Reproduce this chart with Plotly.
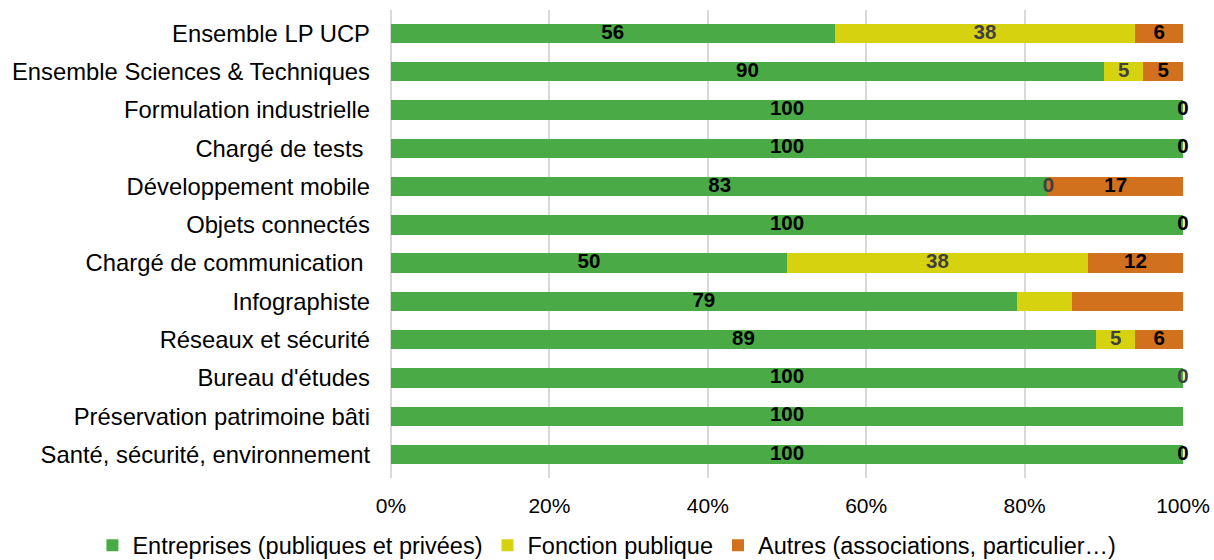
import plotly.graph_objects as go

categories = [
    "Ensemble LP UCP",
    "Ensemble Sciences & Techniques",
    "Formulation industrielle",
    "Chargé de tests\u00a0",
    "Développement mobile",
    "Objets connectés",
    "Chargé de communication\u00a0",
    "Infographiste",
    "Réseaux et sécurité",
    "Bureau d'études",
    "Préservation patrimoine bâti",
    "Santé, sécurité, environnement",
]
entreprises = [56, 90, 100, 100, 83, 100, 50, 79, 89, 100, 100, 100]
fonction = [38, 5, 0, 0, 0, 0, 38, 7, 5, 0, 0, 0]
autres = [6, 5, 0, 0, 17, 0, 12, 14, 6, 0, 0, 0]

# which data labels are visible in the original
show_ent = [True] * 12
show_fonc = [True, True, False, False, True, False, True, False, True, True, False, False]
show_aut = [True, True, True, True, True, True, True, False, True, False, False, True]

series_names = [
    "Entreprises (publiques et privées)",
    "Fonction publique",
    "Autres (associations, particulier…)",
]
colors = ["#4aab46", "#d6d210", "#d1701d"]
label_colors = ["#000000", "#404040", "#000000"]

FONT = "Liberation Sans, Arial, sans-serif"

fig = go.Figure()
series = [entreprises, fonction, autres]
shows = [show_ent, show_fonc, show_aut]

for vals, name, col in zip(series, series_names, colors):
    fig.add_trace(go.Bar(
        y=categories, x=vals, name=name, orientation="h",
        marker=dict(color=col, line=dict(width=0)),
        hoverinfo="skip",
    ))

# data labels centred on each segment
base = [0] * len(categories)
for vals, show, lc in zip(series, shows, label_colors):
    xs = [b + v / 2 for b, v in zip(base, vals)]
    txt = [str(v) if s else "" for v, s in zip(vals, show)]
    fig.add_trace(go.Scatter(
        y=categories, x=xs, text=txt, mode="text",
        textposition="middle center",
        textfont=dict(family=FONT, size=20.5, color=lc, weight="bold"),
        showlegend=False, hoverinfo="skip", cliponaxis=False,
    ))
    base = [b + v for b, v in zip(base, vals)]

fig.update_layout(
    barmode="stack",
    bargap=0.49,
    width=1214, height=560,
    margin=dict(l=391, r=31, t=10, b=82, autoexpand=False),
    paper_bgcolor="white", plot_bgcolor="white",
    font=dict(family=FONT, color="#000000"),
    legend=dict(
        orientation="h", xref="paper", x=-0.377, xanchor="left",
        yref="paper", y=-0.097, yanchor="top",
        font=dict(size=23.5, family=FONT, color="#000000"),
        itemwidth=30, traceorder="normal",
        bgcolor="rgba(0,0,0,0)",
    ),
    xaxis=dict(
        range=[0, 100], tickvals=[0, 20, 40, 60, 80, 100],
        ticktext=["0%", "20%", "40%", "60%", "80%", "100%"],
        showgrid=True, gridcolor="#d9d9d9", gridwidth=1.5,
        zeroline=True, zerolinecolor="#d9d9d9", zerolinewidth=1.5,
        showline=False, ticks="", automargin=False,
        tickfont=dict(size=21, family=FONT, color="#000000"),
        ticklabelstandoff=13,
        fixedrange=True,
    ),
    yaxis=dict(
        autorange="reversed", type="category",
        showgrid=False, zeroline=False, showline=False, ticks="",
        automargin=False,
        tickfont=dict(size=23.8, family=FONT, color="#000000"),
        ticklabelstandoff=20,
        fixedrange=True,
    ),
)

fig.write_html(
    "out.html",
    config={"displayModeBar": False},
    post_script="document.body.style.margin='0px';document.body.style.overflow='hidden';",
)
